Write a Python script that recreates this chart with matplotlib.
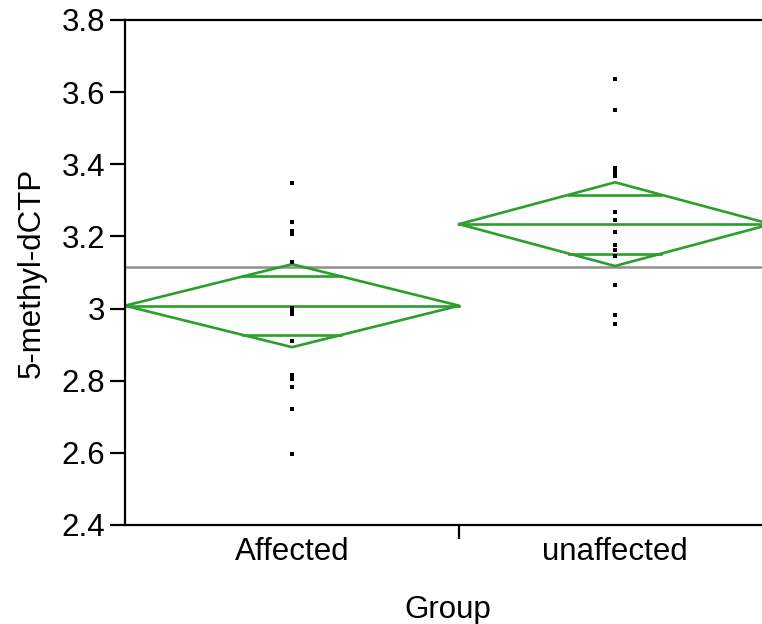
import matplotlib
matplotlib.use("Agg")
import matplotlib.pyplot as plt
import numpy as np

plt.rcParams['font.family'] = ['Liberation Sans', 'DejaVu Sans']

groups = ["Affected", "unaffected"]
affected = [3.347, 3.239, 3.215, 3.207, 3.130, 3.002, 2.997, 2.993, 2.985,
            2.910, 2.816, 2.805, 2.783, 2.722, 2.597]
unaffected = [3.636, 3.550, 3.390, 3.379, 3.367, 3.269, 3.246, 3.213,
              3.176, 3.162, 3.146, 3.065, 2.982, 2.956]
group_means = [3.008, 3.234]
ci_half = [0.115, 0.116]
grand_mean = 3.116
yticks = [2.4, 2.6, 2.8, 3.0, 3.2, 3.4, 3.6, 3.8]
yticklabels = ["2.4", "2.6", "2.8", "3", "3.2", "3.4", "3.6", "3.8"]

data = [affected, unaffected]
green = "#2a9f2a"
fs = 22.5

fig = plt.figure(figsize=(7.62, 6.24), dpi=100)
W, H = 762, 624
left_px, right_px, top_px, bot_px = 125, 771, 20, 525
ax = fig.add_axes([left_px / W, 1 - bot_px / H, (right_px - left_px) / W, (bot_px - top_px) / H])

sizes = [len(d) for d in data]
edges = np.concatenate([[0], np.cumsum(sizes)])
centers = (edges[:-1] + edges[1:]) / 2

ax.axhline(grand_mean, color="#8f8f8f", lw=1.8, zorder=1)

for i, vals in enumerate(data):
    x0, x1, xc = edges[i], edges[i + 1], centers[i]
    m, h = group_means[i], ci_half[i]
    ax.plot([x0, xc, x1, xc, x0], [m, m + h, m, m - h, m], color=green, lw=1.9, zorder=2)
    ax.plot([x0, x1], [m, m], color=green, lw=1.9, zorder=2)
    o = h / np.sqrt(2)
    hw = (x1 - x0) / 2 * (1 - o / h)
    ax.plot([xc - hw, xc + hw], [m + o, m + o], color=green, lw=1.9, zorder=2)
    ax.plot([xc - hw, xc + hw], [m - o, m - o], color=green, lw=1.9, zorder=2)
    ax.plot([xc] * len(vals), vals, 's', color="black", ms=3.2, mew=0, zorder=3)

ax.set_xlim(edges[0], edges[-1])
ax.set_ylim(2.4, 3.8)
ax.set_yticks(yticks)
ax.set_yticklabels(yticklabels)
ax.set_xticks(edges[1:-1])
ax.set_xticklabels([""] * (len(edges) - 2))
ax.set_xticks(centers, minor=True)
ax.set_xticklabels(groups, minor=True)
ax.tick_params(axis="y", length=10.8, width=1.6, pad=3.5, labelsize=fs)
ax.tick_params(axis="x", which="major", length=10, width=1.6)
ax.tick_params(axis="x", which="minor", length=0, pad=8.5, labelsize=fs)

for s in ["left", "bottom", "top"]:
    ax.spines[s].set_linewidth(1.6)
ax.spines["right"].set_visible(False)

ax.set_xlabel("Group", fontsize=fs, labelpad=20)
ax.set_ylabel("5-methyl-dCTP", fontsize=fs, labelpad=11)

fig.savefig("out.png", dpi=100)
